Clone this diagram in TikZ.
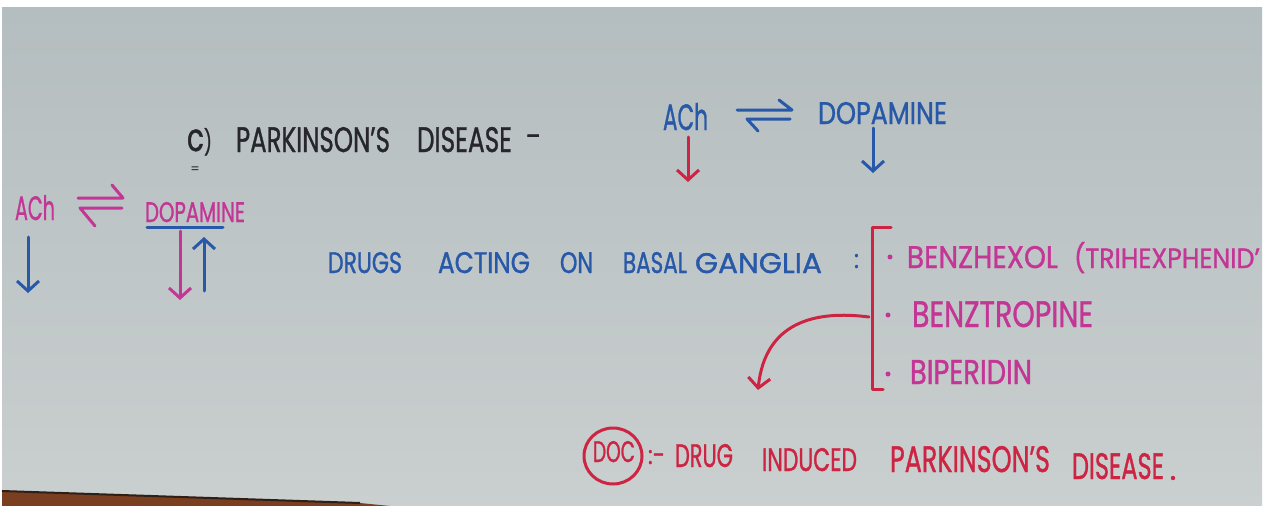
\documentclass[tikz,border=0pt]{standalone}
\usepackage{fontspec}
\setmainfont{Poppins}
\newfontfamily\penfont[FakeBold=1.2]{Poppins}
\usetikzlibrary{arrows.meta,shapes.geometric}
\definecolor{boardtop}{RGB}{180,189,191}
\definecolor{boardbot}{RGB}{202,207,207}
\definecolor{ledge}{RGB}{122,62,32}
\definecolor{ledgeline}{RGB}{45,30,24}
\definecolor{mblue}{RGB}{40,88,168}
\definecolor{mpink}{RGB}{196,54,150}
\definecolor{mred}{RGB}{204,36,66}
\definecolor{mblack}{RGB}{38,38,44}
% stretch a word to a given width and cap height (in pt)
\newcommand\penword[3]{\resizebox{#1pt}{#2pt}{#3}}
\tikzset{
  hw/.style={anchor=base west, inner sep=0pt, outer sep=0pt, font=\penfont\fontsize{28}{30}\selectfont},
  stroke/.style={line width=3pt, line cap=round, line join=round},
  penarrow/.style={stroke, -{Straight Barb[length=10pt,width=22pt]}},
}
\begin{document}
\begin{tikzpicture}[x=1pt,y=-1pt]
\useasboundingbox (0,0) rectangle (1267,506);
% board surface and frame
\fill[white] (0,0) rectangle (1267,506);
\shade[top color=boardtop, bottom color=boardbot] (2,7) rectangle (1262,506);
\fill[ledge] (2,491) -- (360,503) -- (390,506) -- (2,506) -- cycle;
\draw[ledgeline, line width=2pt] (2,491) -- (360,503);

% heading
\node[hw, text=mblack] (cpart) at (187,151) {\penword{25}{23}{{\fontsize{44}{44}\selectfont c})}};
\node[text=mblack, inner sep=0pt, font=\fontsize{13}{13}\selectfont] (ceq) at (195,170) {=};
\node[hw, text=mblack] (parkA) at (236,152) {\penword{154}{25}{PARKINSON’S}};
\node[hw, text=mblack] (disA) at (417,152) {\penword{95}{25}{DISEASE}};
\node[hw, text=mblack] (dashA) at (526,146) {-};

% ACh / dopamine balance (top)
\node[hw, text=mblue] (achT) at (663,130) {\penword{45}{27}{ACh}};
\node[hw, text=mblue] (dopT) at (818,124) {\penword{129}{22}{DOPAMINE}};
\draw[stroke, mblue] (737,110) -- (792,110) -- (779,100);
\draw[stroke, mblue] (790,119) -- (747,119) -- (758,131);
\coordinate (achTa) at (688,137);
\coordinate (achTb) at (688,182);
\coordinate (dopTa) at (873,128);
\coordinate (dopTb) at (873,173);
\draw[penarrow, mred] (achTa) -- (achTb);
\draw[penarrow, mblue] (dopTa) -- (dopTb);

% ACh / dopamine balance (left margin)
\node[hw, text=mpink] (achL) at (15,220) {\penword{40}{25}{ACh}};
\node[hw, text=mpink] (dopL) at (145,222) {\penword{100}{20}{DOPAMINE}};
\draw[stroke, mpink] (78,198) -- (123,198) -- (112,185);
\draw[stroke, mpink] (122,208) -- (80,208) -- (95,226);
\draw[stroke, mblue] (147,227) -- (223,227);
\coordinate (achLa) at (28,237);
\coordinate (achLb) at (28,293);
\coordinate (dopLa) at (180,231);
\coordinate (dopLb) at (180,300);
\coordinate (dopLc) at (204,291);
\coordinate (dopLd) at (204,237);
\draw[penarrow, mblue] (achLa) -- (achLb);
\draw[penarrow, mpink] (dopLa) -- (dopLb);
\draw[penarrow, mblue] (dopLc) -- (dopLd);

% drugs acting on basal ganglia
\node[hw, text=mblue] (w1) at (328,273) {\penword{74}{21}{DRUGS}};
\node[hw, text=mblue] (w2) at (438,273) {\penword{92}{21}{ACTING}};
\node[hw, text=mblue] (w3) at (560,273) {\penword{33}{21}{ON}};
\node[hw, text=mblue] (w4) at (623,273) {\penword{64}{21}{BASAL}};
\node[hw, text=mblue] (w5) at (695,273) {\penword{127}{20}{GANGLIA}};
\node[hw, text=mblue] (w6) at (854,268) {\penword{5}{14}{:}};

% bracket of drugs
\coordinate (brTop) at (891,227);
\coordinate (brTopL) at (872,227);
\coordinate (brBotL) at (872,389);
\coordinate (brBot) at (883,389);
\draw[stroke, mred] (brTop) -- (brTopL) -- (brBotL) -- (brBot);

\fill[mpink] (890,257) circle (2.5);
\fill[mpink] (888,315) circle (2.5);
\fill[mpink] (888,374) circle (2.5);
\node[hw, text=mpink] (d1) at (907,268) {\penword{151}{22}{BENZHEXOL}};
\node[hw, text=mpink] (d1b) at (1074,268) {\penword{186}{26}{(TRIHEXPHENID’}};
\node[hw, text=mpink] (d2) at (912,327) {\penword{181}{26}{BENZTROPINE}};
\node[hw, text=mpink] (d3) at (910,384) {\penword{122}{24}{BIPERIDIN}};

% curved pointer to drug induced parkinsonism
\coordinate (curS) at (869,317);
\coordinate (curE) at (758,390);
\draw[penarrow, mred] (curS) .. controls (815,310) and (765,322) .. (curE);

% DOC line
\node[draw=mred, line width=3pt, ellipse, minimum width=58pt, minimum height=56pt, inner sep=0pt] (docc) at (613,456) {};
\node[hw, text=mred] (doc) at (593,462) {\penword{42}{21}{DOC}};
\node[hw, text=mred] (docsep) at (648,464) {\penword{17}{14}{:-}};
\node[hw, text=mred] (b1) at (675,467) {\penword{58}{23}{DRUG}};
\node[hw, text=mred] (b2) at (762,471) {\penword{95}{23}{INDUCED}};
\node[hw, text=mred] (b3) at (890,472) {\penword{160}{26}{PARKINSON’S}};
\node[hw, text=mred] (b4) at (1072,479) {\penword{92}{26}{DISEASE}};
\fill[mred] (1173,478) circle (2.2);
\end{tikzpicture}
\end{document}
